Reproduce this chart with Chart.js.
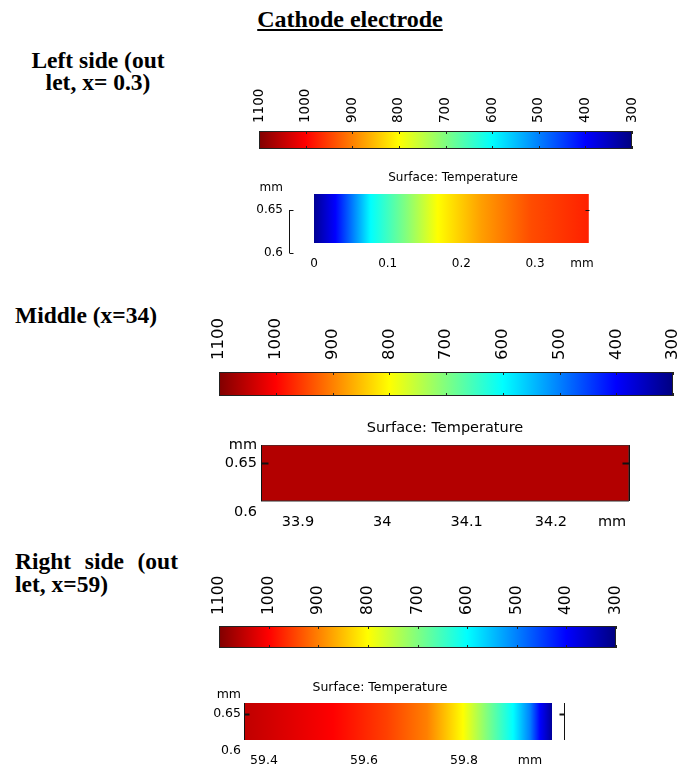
<!DOCTYPE html>
<html>
<head>
<meta charset="utf-8">
<script src="https://cdn.jsdelivr.net/npm/chart.js@4.4.1/dist/chart.umd.min.js"></script>
<style>
  body { margin: 0; background: #fff; }
  #page { position: relative; width: 691px; height: 769px; overflow: hidden; background: #fff; }
  #page canvas { position: absolute; }
  .lbl { position: absolute; font-family: "Liberation Serif", "Times New Roman", serif; font-weight: bold;
         font-size: 23.5px; line-height: 22.5px; color: #000; }
</style>
</head>
<body>
<div id="page">
  <div class="lbl" style="left:200px;width:300px;top:7px;text-align:center;font-size:24px;line-height:24px;text-decoration:underline;">Cathode electrode</div>
  <div class="lbl" style="left:16px;width:164px;top:48.5px;text-align:center;">Left side (out let, x= 0.3)</div>
  <div class="lbl" style="left:15px;top:304px;white-space:nowrap;">Middle (x=34)</div>
  <div class="lbl" style="left:15px;width:163px;top:550px;text-align:justify;text-align-last:left;">Right side (out let, x=59)</div>
</div>
<script>
// temperature colour scale (K) and its tick labels
const colorbarTicks = [1100, 1000, 900, 800, 700, 600, 500, 400, 300];
const tempMin = 300;
const tempMax = 1100;

// left side (outlet, x = 0.3)
const leftRectX = [0, 0.373];
const leftRectY = [0.6116, 0.6686];
const leftProfileX = [0, 0.029, 0.077, 0.124, 0.168, 0.227, 0.295, 0.373];
const leftProfileT = [315, 400, 600, 700, 800, 875, 940, 975];
const leftXTicks = [0, 0.1, 0.2, 0.3];
const leftYTicks = [0.6, 0.65];

// middle (x = 34)
const middleRectX = [33.8561, 34.2926];
const middleRectY = [0.6112, 0.6683];
const middleProfileX = [33.8561, 34.2926];
const middleProfileT = [1060, 1060];
const middleXTicks = [33.9, 34, 34.1, 34.2];
const middleYTicks = [0.6, 0.65];

// right side (outlet, x = 59)
const rightRectX = [59.36, 59.976];
const rightRectY = [0.6149, 0.6649];
const rightProfileX = [59.36, 59.538, 59.646, 59.726, 59.798, 59.846, 59.898, 59.932, 59.952, 59.976];
const rightProfileT = [1050, 1000, 950, 900, 800, 700, 600, 500, 400, 320];
const rightXTicks = [59.4, 59.6, 59.8];
const rightYTicks = [0.6, 0.65];

Chart.defaults.font.family = "'DejaVu Sans', sans-serif";
Chart.defaults.color = '#000';

const page = document.getElementById('page');

// jet colormap
function jet(temp) {
  const t = (temp - tempMin) / (tempMax - tempMin);
  const c = v => Math.round(255 * Math.max(0, Math.min(1, v)));
  return `rgb(${c(1.5 - Math.abs(4 * t - 3))},${c(1.5 - Math.abs(4 * t - 2))},${c(1.5 - Math.abs(4 * t - 1))})`;
}

// horizontal gradient placed with the x scale
function gradientFill(xs, ts) {
  return (context) => {
    const { ctx, chartArea, scales } = context.chart;
    if (!chartArea) return 'rgba(0,0,0,0)';
    const x0 = scales.x.getPixelForValue(xs[0]);
    const x1 = scales.x.getPixelForValue(xs[xs.length - 1]);
    const g = ctx.createLinearGradient(x0, 0, x1, 0);
    xs.forEach((v, i) => {
      g.addColorStop((scales.x.getPixelForValue(v) - x0) / (x1 - x0), jet(ts[i]));
    });
    return g;
  };
}

function addCanvas(box) {
  const c = document.createElement('canvas');
  c.width = box[2];
  c.height = box[3];
  c.style.left = box[0] + 'px';
  c.style.top = box[1] + 'px';
  c.style.width = box[2] + 'px';
  c.style.height = box[3] + 'px';
  page.appendChild(c);
  return c;
}

// frame and inner tick marks of a colour bar
const colorbarFrame = {
  id: 'colorbarFrame',
  afterDatasetsDraw(chart, args, opts) {
    const { ctx, chartArea: a, scales: { x } } = chart;
    ctx.save();
    ctx.strokeStyle = '#222';
    ctx.lineWidth = 1;
    ctx.beginPath();
    x.ticks.forEach(t => {
      const px = Math.round(x.getPixelForValue(t.value)) + 0.5;
      ctx.moveTo(px, a.top);
      ctx.lineTo(px, a.top + opts.len);
      ctx.moveTo(px, a.bottom);
      ctx.lineTo(px, a.bottom - opts.len);
    });
    ctx.stroke();
    ctx.strokeRect(Math.round(a.left) + 0.5, Math.round(a.top) + 0.5,
      Math.round(a.right - a.left) - 1, Math.round(a.bottom - a.top) - 1);
    ctx.restore();
  }
};

// axis lines with inward ticks
const edgeMarks = {
  id: 'edgeMarks',
  afterDatasetsDraw(chart, args, opts) {
    const { ctx, scales: { x, y } } = chart;
    ctx.save();
    ctx.strokeStyle = '#111';
    (opts.lines || []).forEach(l => {
      const px = Math.round(x.getPixelForValue(l.x)) + 0.5;
      ctx.lineWidth = 1;
      ctx.beginPath();
      ctx.moveTo(px, y.getPixelForValue(l.from));
      ctx.lineTo(px, y.getPixelForValue(l.to));
      ctx.stroke();
      ctx.lineWidth = opts.tickWidth;
      ctx.beginPath();
      l.ticks.forEach(v => {
        const py = Math.round(y.getPixelForValue(v)) + 0.5;
        ctx.moveTo(px, py);
        ctx.lineTo(px + l.dir * opts.tickLen, py);
      });
      ctx.stroke();
    });
    ctx.restore();
  }
};

function makeColorbar(cfg) {
  new Chart(addCanvas(cfg.box), {
    type: 'line',
    data: {
      datasets: [{
        data: [{ x: colorbarTicks[0], y: 1 }, { x: colorbarTicks[colorbarTicks.length - 1], y: 1 }],
        fill: 'start',
        borderWidth: 0,
        pointRadius: 0,
        backgroundColor: gradientFill(colorbarTicks, colorbarTicks)
      }]
    },
    options: {
      responsive: false,
      animation: false,
      events: [],
      layout: { padding: { left: cfg.padLeft, right: cfg.padRight, top: 0, bottom: cfg.padBottom } },
      scales: {
        x: {
          type: 'linear', position: 'top', reverse: true, min: tempMin, max: tempMax,
          afterBuildTicks: s => { s.ticks = colorbarTicks.map(v => ({ value: v })); },
          afterFit: s => { s.height = cfg.axisHeight; },
          grid: { display: false, drawTicks: false },
          border: { display: false },
          ticks: {
            autoSkip: false, minRotation: 90, maxRotation: 90, padding: cfg.pad,
            labelOffset: cfg.font * 1.2,
            font: { size: cfg.font }, color: '#000', callback: v => String(v)
          }
        },
        y: { display: false, min: 0, max: 1 }
      },
      plugins: { legend: { display: false }, tooltip: { enabled: false }, colorbarFrame: { len: 3 } }
    },
    plugins: [colorbarFrame]
  });
}

function makeSurface(cfg, rectX, rectY, profX, profT, xTicks, yTicks) {
  const rect = [
    { x: rectX[0], y: rectY[0] }, { x: rectX[1], y: rectY[0] },
    { x: rectX[1], y: rectY[1] }, { x: rectX[0], y: rectY[1] }, { x: rectX[0], y: rectY[0] }
  ];
  new Chart(addCanvas(cfg.box), {
    type: 'line',
    data: {
      datasets: [{
        data: rect,
        fill: 'shape',
        backgroundColor: gradientFill(profX, profT),
        borderColor: cfg.edge || 'rgba(0,0,0,0)',
        borderWidth: cfg.edge ? 1 : 0,
        pointRadius: 0
      }]
    },
    options: {
      responsive: false,
      animation: false,
      events: [],
      layout: { padding: 0 },
      scales: {
        x: {
          type: 'linear', min: cfg.xRange[0], max: cfg.xRange[1],
          afterBuildTicks: s => { s.ticks = [...xTicks, cfg.xUnit].map(v => ({ value: v })); },
          afterFit: s => { s.height = cfg.xAxisHeight; },
          grid: { display: false, drawTicks: false },
          border: { display: false },
          ticks: {
            autoSkip: false, maxRotation: 0, padding: cfg.xPad, font: { size: cfg.font }, color: '#000',
            callback: v => (v === cfg.xUnit ? 'mm' : String(v))
          }
        },
        y: {
          type: 'linear', min: cfg.yRange[0], max: cfg.yRange[1],
          afterBuildTicks: s => { s.ticks = [...yTicks, cfg.yRange[1]].map(v => ({ value: v })); },
          afterFit: s => { s.width = cfg.yAxisWidth; },
          grid: { display: false, drawTicks: false },
          border: { display: false },
          ticks: {
            autoSkip: false, padding: cfg.yPad, font: { size: cfg.font }, color: '#000',
            callback: v => (v === cfg.yRange[1] ? 'mm' : String(v))
          }
        }
      },
      plugins: {
        legend: { display: false },
        tooltip: { enabled: false },
        title: {
          display: true, text: 'Surface: Temperature', color: '#000',
          font: { size: cfg.font, weight: 'normal', lineHeight: cfg.titleLH },
          padding: { top: cfg.titlePad[0], bottom: cfg.titlePad[1] }
        },
        edgeMarks: { lines: cfg.lines, tickLen: cfg.tickLen, tickWidth: cfg.tickWidth }
      }
    },
    plugins: [edgeMarks]
  });
}

// colour bars
makeColorbar({ box: [220, 80, 440, 71], padLeft: 39, padRight: 28, padBottom: 2, axisHeight: 51, font: 13.5, pad: 8 });
makeColorbar({ box: [175, 305, 516, 93], padLeft: 44, padRight: 18, padBottom: 2, axisHeight: 67, font: 16.5, pad: 12 });
makeColorbar({ box: [175, 560, 465, 90], padLeft: 44, padRight: 24, padBottom: 2, axisHeight: 66, font: 15.5, pad: 11 });

// surface plots
makeSurface({
  box: [240, 160, 426, 115], xRange: [-0.03394, 0.47781], yRange: [0.6, 0.67616],
  xUnit: 0.3638, yAxisWidth: 49, xAxisHeight: 22, xPad: 3.8, yPad: 6, font: 12,
  titleLH: 1.2, titlePad: [10.8, 2.3], tickLen: 4, tickWidth: 1,
  lines: [
    { x: -0.03394, from: 0.6, to: 0.65, ticks: [0.6, 0.65], dir: 1 },
    { x: 0.373, from: 0.65, to: 0.65, ticks: [0.65], dir: -1 }
  ]
}, leftRectX, leftRectY, leftProfileX, leftProfileT, leftXTicks, leftYTicks);

makeSurface({
  box: [200, 405, 490, 130], xRange: [33.8561, 34.365], yRange: [0.6, 0.6684],
  xUnit: 34.2725, yAxisWidth: 61, xAxisHeight: 23, xPad: 1.3, yPad: 4, font: 14.5,
  titleLH: 1.2, titlePad: [14.3, 8.3], tickLen: 7, tickWidth: 2, edge: '#333',
  lines: [
    { x: 33.8561, from: 0.6112, to: 0.6683, ticks: [0.65], dir: 1 },
    { x: 34.2926, from: 0.6112, to: 0.6683, ticks: [0.65], dir: -1 }
  ]
}, middleRectX, middleRectY, middleProfileX, middleProfileT, middleXTicks, middleYTicks);

makeSurface({
  box: [185, 670, 390, 99], xRange: [59.36, 60.022], yRange: [0.6, 0.67568],
  xUnit: 59.932, yAxisWidth: 59, xAxisHeight: 18, xPad: 2.5, yPad: 3, font: 12.5,
  titleLH: 1.1, titlePad: [11.1, 0.2], tickLen: 5, tickWidth: 2,
  lines: [
    { x: 59.36, from: 0.6149, to: 0.6649, ticks: [0.65], dir: 1 },
    { x: 60.0, from: 0.6149, to: 0.6649, ticks: [0.65], dir: -1 }
  ]
}, rightRectX, rightRectY, rightProfileX, rightProfileT, rightXTicks, rightYTicks);
</script>
</body>
</html>
